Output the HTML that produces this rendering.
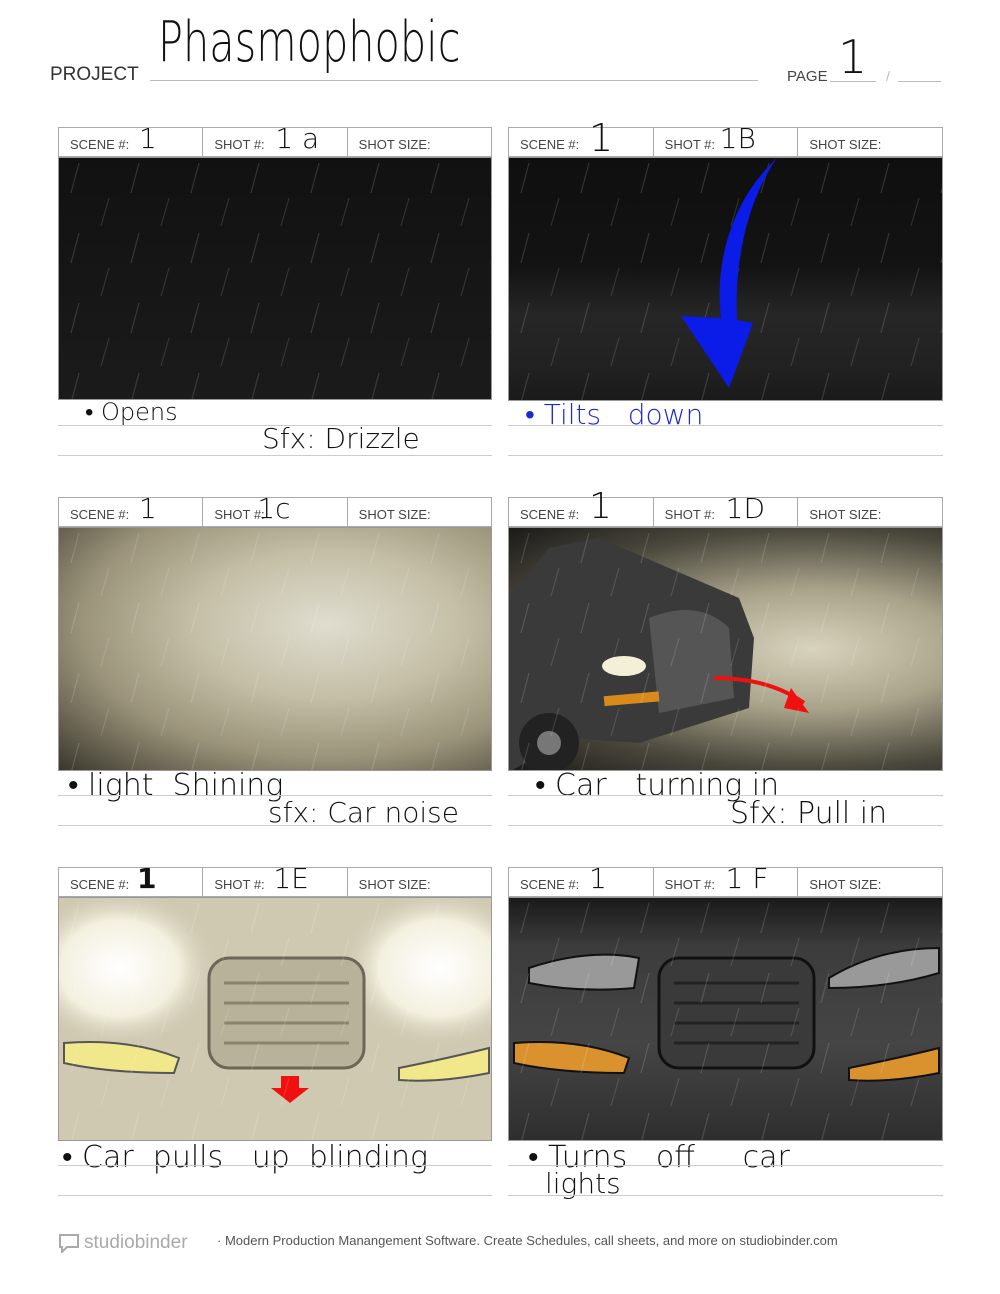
<!DOCTYPE html>
<html><head><meta charset="utf-8"><style>
body{margin:0;background:#fff;width:1000px;height:1294px;position:relative;overflow:hidden;font-family:"Liberation Sans",sans-serif}
.abs{position:absolute}
.hand{font-family:"DejaVu Sans ExtraLight","DejaVu Sans","Liberation Sans",sans-serif;color:#111;font-weight:200}
.hdr{position:absolute;height:30px;border:1px solid #aaa;box-sizing:border-box;display:flex;background:#fff}
.hdr div{flex:1;border-right:1px solid #aaa;font-size:13px;color:#444;padding:9px 0 0 11px;position:relative}
.hdr div:last-child{border-right:none}
.hdr .v{position:absolute;top:-6px;font-size:28px;padding:0;border:none;color:#111}
.img{position:absolute;overflow:hidden;border:1px solid #999;box-sizing:border-box}
.line{position:absolute;height:1px;background:#ccc}
</style></head><body>
<div class="abs" style="left:50px;top:64px;font-size:19px;color:#333">PROJECT</div>
<div class="abs hand" style="left:158px;top:10px;font-size:56px;transform:scaleX(0.74);transform-origin:left top;white-space:nowrap">Phasmophobic</div>
<div class="line" style="left:150px;top:80px;width:608px;background:#bbb"></div>
<div class="abs" style="left:787px;top:68px;font-size:15px;color:#444">PAGE</div>
<div class="abs hand" style="left:838px;top:30px;font-size:46px">1</div>
<div class="line" style="left:830px;top:81px;width:46px;background:#bbb"></div>
<div class="abs" style="left:886px;top:68px;font-size:14px;color:#bbb">/</div>
<div class="line" style="left:898px;top:81px;width:43px;background:#bbb"></div>

<svg width="0" height="0" style="position:absolute"><defs>
<pattern id="rain" width="60" height="70" patternUnits="userSpaceOnUse">
<line x1="20" y1="5" x2="12" y2="35" stroke="rgba(255,255,255,0.14)" stroke-width="1.2"/>
<line x1="50" y1="40" x2="42" y2="68" stroke="rgba(255,255,255,0.12)" stroke-width="1.2"/>
</pattern></defs></svg>

<!-- Row 1 -->
<div class="hdr" style="left:58px;top:127px;width:434px"><div>SCENE #:<span class="v hand" style="left:80px">1</span></div><div>SHOT #:<span class="v hand" style="left:72px">1 a</span></div><div>SHOT SIZE:</div></div>
<div class="img" style="left:58px;top:157px;width:434px;height:243px;background:linear-gradient(#111,#1b1b1b)"><svg width="434" height="243"><rect width="434" height="243" fill="url(#rain)"/></svg></div>
<div class="abs hand" style="left:85px;top:398px;font-size:24px">• Opens</div>
<div class="abs hand" style="left:262px;top:422px;font-size:28px">Sfx: Drizzle</div>
<div class="line" style="left:58px;top:425px;width:434px"></div><div class="line" style="left:58px;top:455px;width:434px"></div>

<div class="hdr" style="left:508px;top:127px;width:435px"><div>SCENE #:<span class="v hand" style="left:80px;font-size:38px;top:-12px">1</span></div><div>SHOT #:<span class="v hand" style="left:66px">1B</span></div><div>SHOT SIZE:</div></div>
<div class="img" style="left:508px;top:157px;width:435px;height:244px;background:linear-gradient(#0f0f0f 0%,#131313 45%,#262626 65%,#222 85%,#1a1a1a 100%)"><svg width="435" height="244"><rect width="435" height="244" fill="url(#rain)"/>
<path d="M268 0 C225 40 205 100 212 160 L172 158 L220 230 L244 165 L228 162 C225 100 240 40 268 0 Z" fill="#0b1be8"/></svg></div>
<div class="abs hand" style="left:525px;top:398px;font-size:28px;color:#1a2bd0">• Tilts &nbsp; down</div>
<div class="line" style="left:508px;top:425px;width:435px"></div><div class="line" style="left:508px;top:455px;width:435px"></div>

<!-- Row 2 -->
<div class="hdr" style="left:58px;top:497px;width:434px"><div>SCENE #:<span class="v hand" style="left:80px">1</span></div><div>SHOT #:<span class="v hand" style="left:54px">1c</span></div><div>SHOT SIZE:</div></div>
<div class="img" style="left:58px;top:527px;width:434px;height:244px;background:radial-gradient(ellipse at 62% 40%,#e0ddd0 0%,#c4bfa6 35%,#9a937a 65%,#3a372c 100%)"><svg width="434" height="244"><rect width="434" height="244" fill="url(#rain)"/></svg></div>
<div class="abs hand" style="left:68px;top:768px;font-size:30px">• light &nbsp;Shining</div>
<div class="abs hand" style="left:268px;top:796px;font-size:28px">sfx: Car noise</div>
<div class="line" style="left:58px;top:795px;width:434px"></div><div class="line" style="left:58px;top:825px;width:434px"></div>

<div class="hdr" style="left:508px;top:497px;width:435px"><div>SCENE #:<span class="v hand" style="left:80px;font-size:36px;top:-12px">1</span></div><div>SHOT #:<span class="v hand" style="left:72px">1D</span></div><div>SHOT SIZE:</div></div>
<div class="img" style="left:508px;top:527px;width:435px;height:244px;background:radial-gradient(ellipse at 70% 50%,#d8d3bd 0%,#a9a38a 35%,#4a473c 70%,#1a1a18 100%)"><svg width="435" height="244">
<path d="M0 70 L40 20 L90 10 L160 40 L230 70 L245 110 L240 180 L130 215 L60 210 L0 244 Z" fill="#3a3a3a"/>
<path d="M140 90 Q190 70 220 100 L225 170 L150 185 Z" fill="#555"/>
<ellipse cx="115" cy="138" rx="22" ry="10" fill="#f4f0d8"/>
<rect x="95" y="166" width="55" height="10" fill="#d88b1a" transform="rotate(-5 120 170)"/>
<circle cx="40" cy="215" r="30" fill="#222"/><circle cx="40" cy="215" r="12" fill="#777"/>
<path d="M205 150 Q260 150 295 175" stroke="#f01010" stroke-width="4" fill="none"/><path d="M282 160 L300 185 L275 180 Z" fill="#f01010"/>
<rect width="435" height="244" fill="url(#rain)"/></svg></div>
<div class="abs hand" style="left:535px;top:768px;font-size:30px">• Car &nbsp; turning in</div>
<div class="abs hand" style="left:730px;top:796px;font-size:30px">Sfx: Pull in</div>
<div class="line" style="left:508px;top:795px;width:435px"></div><div class="line" style="left:508px;top:825px;width:435px"></div>

<!-- Row 3 -->
<div class="hdr" style="left:58px;top:867px;width:434px"><div>SCENE #:<span class="v hand" style="left:78px;font-weight:bold">1</span></div><div>SHOT #:<span class="v hand" style="left:70px">1E</span></div><div>SHOT SIZE:</div></div>
<div class="img" style="left:58px;top:897px;width:434px;height:244px;background:#cfc9b2"><svg width="434" height="244">
<defs><radialGradient id="glow"><stop offset="0" stop-color="#fff"/><stop offset="0.6" stop-color="#f3f0df"/><stop offset="1" stop-color="#cfc9b2" stop-opacity="0"/></radialGradient></defs>
<ellipse cx="60" cy="70" rx="100" ry="80" fill="url(#glow)"/><ellipse cx="380" cy="70" rx="100" ry="80" fill="url(#glow)"/>
<rect x="150" y="60" width="155" height="110" rx="20" fill="#b8b29b" stroke="#6b6655" stroke-width="3"/>
<g stroke="#8a846e" stroke-width="3"><line x1="165" y1="85" x2="290" y2="85"/><line x1="165" y1="105" x2="290" y2="105"/><line x1="165" y1="125" x2="290" y2="125"/><line x1="165" y1="145" x2="290" y2="145"/></g>
<path d="M5 145 Q70 140 120 160 L115 175 Q50 175 5 165 Z" fill="#f0e88a" stroke="#555" stroke-width="2"/>
<path d="M340 170 Q390 160 430 150 L430 175 Q380 185 340 182 Z" fill="#f0e88a" stroke="#555" stroke-width="2"/>
<path d="M222 178 L240 178 L240 190 L250 190 L231 205 L212 190 L222 190 Z" fill="#f01010"/>
<rect width="434" height="244" fill="url(#rain)"/></svg></div>
<div class="abs hand" style="left:62px;top:1140px;font-size:30px">• Car &nbsp;pulls &nbsp; up &nbsp;blinding</div>
<div class="line" style="left:58px;top:1165px;width:434px"></div><div class="line" style="left:58px;top:1195px;width:434px"></div>

<div class="hdr" style="left:508px;top:867px;width:435px"><div>SCENE #:<span class="v hand" style="left:80px">1</span></div><div>SHOT #:<span class="v hand" style="left:72px">1 F</span></div><div>SHOT SIZE:</div></div>
<div class="img" style="left:508px;top:897px;width:435px;height:244px;background:linear-gradient(#1a1a1a 0%,#3c3c3c 20%,#454545 60%,#2e2e2e 100%)"><svg width="435" height="244">
<path d="M20 70 Q80 50 130 60 L125 90 Q70 95 20 85 Z" fill="#999" stroke="#111" stroke-width="2"/>
<path d="M320 80 Q370 50 430 50 L430 75 Q380 90 320 90 Z" fill="#999" stroke="#111" stroke-width="2"/>
<rect x="150" y="60" width="155" height="110" rx="20" fill="#3a3a3a" stroke="#111" stroke-width="3"/>
<g stroke="#222" stroke-width="3"><line x1="165" y1="85" x2="290" y2="85"/><line x1="165" y1="105" x2="290" y2="105"/><line x1="165" y1="125" x2="290" y2="125"/><line x1="165" y1="145" x2="290" y2="145"/></g>
<path d="M5 145 Q70 140 120 160 L115 175 Q50 175 5 165 Z" fill="#d9922e" stroke="#111" stroke-width="2"/>
<path d="M340 170 Q390 160 430 150 L430 175 Q380 185 340 182 Z" fill="#d9922e" stroke="#111" stroke-width="2"/>
<rect width="435" height="244" fill="url(#rain)"/></svg></div>
<div class="abs hand" style="left:528px;top:1140px;font-size:30px">• Turns &nbsp; off &nbsp; &nbsp; car</div>
<div class="abs hand" style="left:545px;top:1167px;font-size:28px">lights</div>
<div class="line" style="left:508px;top:1165px;width:435px"></div><div class="line" style="left:508px;top:1195px;width:435px"></div>

<div class="abs" style="left:58px;top:1232px;font-size:19px;color:#aaa;display:flex;align-items:center"><svg width="22" height="20" style="margin-right:4px"><path d="M2 2 H20 V14 H9 L4 19 V14 H2 Z" fill="none" stroke="#aaa" stroke-width="2"/></svg>studiobinder</div>
<div class="abs" style="left:217px;top:1233px;font-size:13px;color:#555">· Modern Production Manangement Software. Create Schedules, call sheets, and more on studiobinder.com</div>
</body></html>
